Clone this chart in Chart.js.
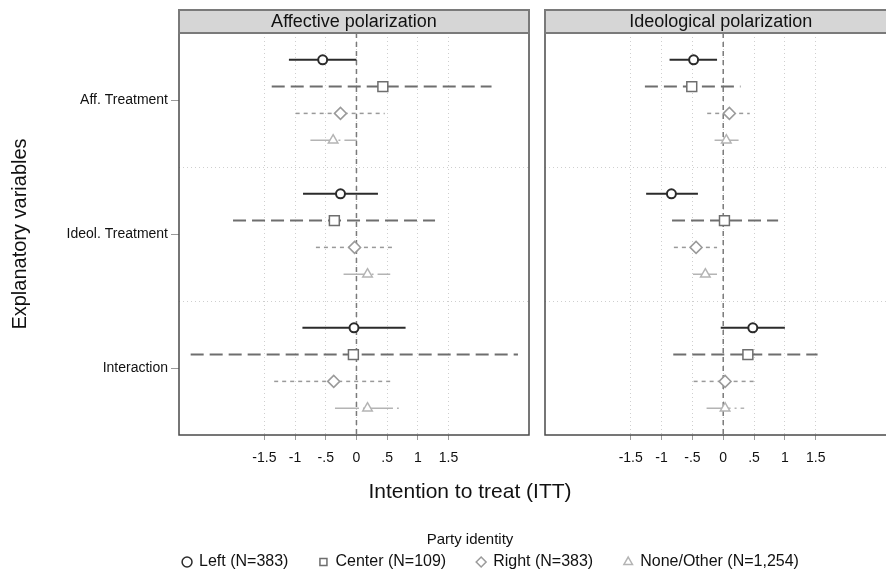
<!DOCTYPE html>
<html>
<head>
<meta charset="utf-8">
<script src="https://cdn.jsdelivr.net/npm/chart.js@4.4.0/dist/chart.umd.min.js"></script>
<style>
  html, body { margin: 0; padding: 0; background: #fff; }
  body { width: 886px; height: 576px; overflow: hidden; position: relative; }
  canvas { position: absolute; }
  #affChart { left: 0; top: 0; }
  #ideChart { left: 535px; top: 0; }
  #titleChart { left: 40px; top: 475px; }
  #legendChart { left: 61px; top: 523px; }
</style>
</head>
<body>
<canvas id="affChart" width="540" height="475"></canvas>
<canvas id="ideChart" width="370" height="475"></canvas>
<canvas id="titleChart" width="860" height="80"></canvas>
<canvas id="legendChart" width="860" height="90"></canvas>
<script>
Chart.defaults.font.family = '"Liberation Sans", Arial, sans-serif';
Chart.defaults.color = '#111';

const predictors = ['Aff. Treatment', 'Ideol. Treatment', 'Interaction'];
const parties = ['Left (N=383)', 'Center (N=109)', 'Right (N=383)', 'None/Other (N=1,254)'];
const xTicks = [-1.5, -1, -0.5, 0, 0.5, 1, 1.5];
const xTickLabels = ['-1.5', '-1', '-.5', '0', '.5', '1', '1.5'];

// one row per party, one column per predictor
const affEst = [[-0.55, -0.26, -0.04], [0.43, -0.36, -0.05], [-0.26, -0.03, -0.37], [-0.38, 0.18, 0.18]];
const affLo  = [[-1.10, -0.87, -0.88], [-1.38, -2.01, -2.70], [-0.99, -0.66, -1.34], [-0.75, -0.21, -0.35]];
const affHi  = [[0.00, 0.35, 0.80], [2.20, 1.28, 2.63], [0.46, 0.60, 0.59], [0.01, 0.55, 0.69]];

const ideEst = [[-0.48, -0.84, 0.48], [-0.51, 0.02, 0.40], [0.10, -0.44, 0.03], [0.05, -0.29, 0.03]];
const ideLo  = [[-0.87, -1.25, -0.04], [-1.27, -0.83, -0.81], [-0.26, -0.80, -0.48], [-0.14, -0.49, -0.27]];
const ideHi  = [[-0.10, -0.41, 1.00], [0.28, 0.89, 1.53], [0.43, -0.10, 0.53], [0.25, -0.08, 0.34]];

// look of each party series
const partyStyle = [
    { color: '#2b2b2b', dash: [], width: 2, point: 'circle', radius: 4.5, markerWidth: 2 },
    { color: '#6e6e6e', dash: [13, 6], width: 2, point: 'rect', radius: 7, markerWidth: 1.5 },
    { color: '#9a9a9a', dash: [4, 4], width: 1.5, point: 'rectRot', radius: 6, markerWidth: 1.5 },
    { color: '#b4b4b4', dash: [24, 4, 2, 4], width: 1.5, point: 'triangle', radius: 5.5, markerWidth: 1.5 }
];
const rowOffset = [-0.3, -0.1, 0.1, 0.3];

// frame around the plot + grey heading strip
const panelFrame = {
    id: 'panelFrame',
    afterDraw(chart, args, opts) {
        const { ctx, chartArea: a } = chart;
        ctx.save();
        ctx.strokeStyle = '#4a4a4a';
        ctx.lineWidth = 1.5;
        ctx.strokeRect(a.left, a.top, a.right - a.left, a.bottom - a.top);
        ctx.fillStyle = '#d6d6d6';
        ctx.fillRect(a.left, 10, a.right - a.left, a.top - 10);
        ctx.strokeStyle = '#7a7a7a';
        ctx.lineWidth = 2;
        ctx.strokeRect(a.left, 10, a.right - a.left, a.top - 10);
        ctx.fillStyle = '#111';
        ctx.font = '18px "Liberation Sans", Arial, sans-serif';
        ctx.textAlign = 'center';
        ctx.textBaseline = 'middle';
        ctx.fillText(opts.text, (a.left + a.right) / 2, (10 + a.top) / 2 + 1);
        ctx.restore();
    }
};

function buildPanel(canvasId, heading, est, lo, hi, showLabels, padRight) {
    const datasets = [];
    parties.forEach((party, g) => {
        const st = partyStyle[g];
        datasets.push({
            label: party,
            data: est[g].map((v, p) => ({ x: v, y: p + rowOffset[g] })),
            pointStyle: st.point,
            pointRadius: st.radius,
            borderColor: st.color,
            backgroundColor: '#fff',
            borderWidth: st.markerWidth,
            order: 0
        });
        predictors.forEach((pred, p) => {
            datasets.push({
                data: [{ x: lo[g][p], y: p + rowOffset[g] }, { x: hi[g][p], y: p + rowOffset[g] }],
                showLine: true,
                pointRadius: 0,
                borderColor: st.color,
                borderWidth: st.width,
                borderDash: st.dash,
                order: 1
            });
        });
    });
    // zero reference line
    datasets.push({
        data: [{ x: 0, y: -0.5 }, { x: 0, y: 2.5 }],
        showLine: true,
        pointRadius: 0,
        borderColor: '#7a7a7a',
        borderWidth: 1.5,
        borderDash: [5, 4],
        order: 2
    });

    return new Chart(document.getElementById(canvasId), {
        type: 'scatter',
        data: { datasets: datasets },
        options: {
            responsive: false,
            animation: false,
            events: [],
            layout: { padding: { top: 33, right: padRight, bottom: 0, left: 0 } },
            scales: {
                x: {
                    type: 'linear',
                    min: -2.89,
                    max: 2.81,
                    afterBuildTicks: s => { s.ticks = xTicks.map(v => ({ value: v })); },
                    afterFit: s => { s.height = 40; },
                    ticks: {
                        autoSkip: false,
                        maxRotation: 0,
                        padding: 10,
                        font: { size: 14 },
                        color: '#111',
                        callback: (v, i) => xTickLabels[i]
                    },
                    grid: { color: '#cfcfcf', lineWidth: 1, tickLength: 5, tickColor: '#9a9a9a' },
                    border: { display: false, dash: [1, 3] }
                },
                y: {
                    type: 'linear',
                    reverse: true,
                    min: -0.5,
                    max: 2.5,
                    afterBuildTicks: s => { s.ticks = [0, 0.5, 1, 1.5, 2].map(v => ({ value: v })); },
                    afterFit: s => { s.width = showLabels ? 179 : 10; },
                    ticks: {
                        display: showLabels,
                        padding: 3,
                        font: { size: 14 },
                        color: '#111',
                        callback: v => Number.isInteger(v) ? predictors[v] : ''
                    },
                    grid: {
                        drawTicks: showLabels,
                        tickLength: 8,
                        color: c => (c.tick && Number.isInteger(c.tick.value)) ? 'rgba(0,0,0,0)' : '#cfcfcf',
                        tickColor: c => (c.tick && Number.isInteger(c.tick.value)) ? '#9a9a9a' : 'rgba(0,0,0,0)'
                    },
                    border: { display: false, dash: [1, 3] },
                    title: {
                        display: showLabels,
                        text: 'Explanatory variables',
                        font: { size: 20 },
                        color: '#111',
                        padding: { top: 8 }
                    }
                }
            },
            plugins: {
                legend: { display: false },
                tooltip: { enabled: false },
                panelFrame: { text: heading }
            }
        },
        plugins: [panelFrame]
    });
}

buildPanel('affChart', 'Affective polarization', affEst, affLo, affHi, true, 11);
buildPanel('ideChart', 'Ideological polarization', ideEst, ideLo, ideHi, false, 0);

// x-axis title and legend heading
new Chart(document.getElementById('titleChart'), {
    type: 'scatter',
    data: { datasets: [] },
    options: {
        responsive: false,
        animation: false,
        events: [],
        scales: { x: { display: false }, y: { display: false } },
        plugins: {
            legend: { display: false },
            tooltip: { enabled: false },
            title: {
                display: true,
                text: 'Intention to treat (ITT)',
                font: { size: 21, weight: 'normal' },
                color: '#111',
                padding: { top: 5, bottom: 20 }
            },
            subtitle: {
                display: true,
                text: 'Party identity',
                font: { size: 15, weight: 'normal' },
                color: '#111',
                padding: { top: 6, bottom: 0 }
            }
        }
    }
});

// shared legend
new Chart(document.getElementById('legendChart'), {
    type: 'scatter',
    data: {
        datasets: parties.map((party, g) => ({
            label: party,
            data: [],
            pointStyle: partyStyle[g].point,
            borderColor: partyStyle[g].color,
            backgroundColor: '#fff',
            borderWidth: 1.5
        }))
    },
    options: {
        responsive: false,
        animation: false,
        events: [],
        scales: { x: { display: false }, y: { display: false } },
        plugins: {
            tooltip: { enabled: false },
            legend: {
                position: 'top',
                maxHeight: 80,
                labels: {
                    usePointStyle: true,
                    boxWidth: 8,
                    boxHeight: 7,
                    padding: 31,
                    font: { size: 16 },
                    color: '#111'
                }
            }
        }
    }
});
</script>
</body>
</html>
